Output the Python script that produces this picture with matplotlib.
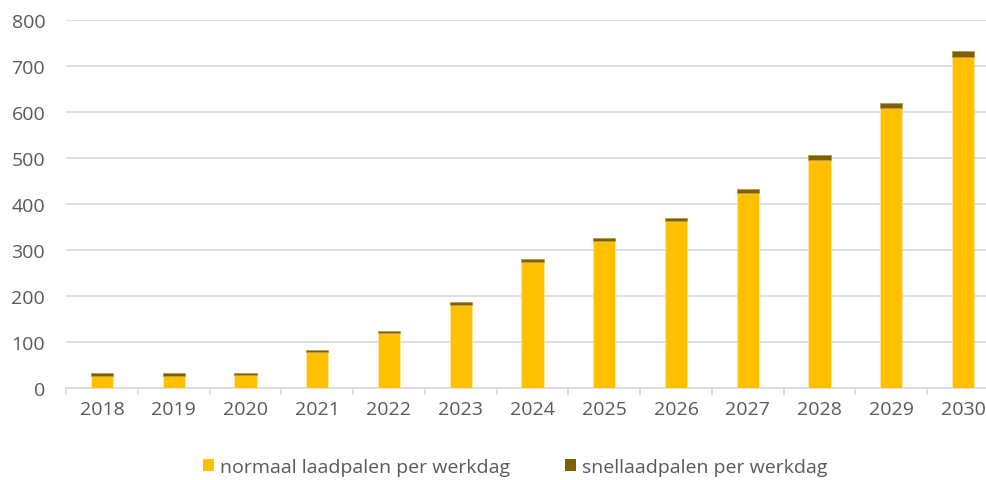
import matplotlib
matplotlib.use("Agg")
import matplotlib.pyplot as plt
import numpy as np

years = ["2018", "2019", "2020", "2021", "2022", "2023", "2024",
         "2025", "2026", "2027", "2028", "2029", "2030"]
normaal = [27, 27, 29, 79, 120, 181, 275, 320, 363, 424, 496, 608, 719]
snel = [6, 6, 4, 4, 4, 5, 5, 6, 7, 9, 11, 12, 14]
yticks = [0, 100, 200, 300, 400, 500, 600, 700, 800]

plt.rcParams['font.family'] = ['Open Sans', 'DejaVu Sans']

W, H = 987, 481
fig = plt.figure(figsize=(W / 100, H / 100), dpi=100)
ax = fig.add_axes([66 / W, 1 - 389 / H, (999 - 66) / W, (389 - 21) / H])

x = np.arange(len(years))
bw = 0.31
ax.bar(x, normaal, width=bw, color="#FFC000", edgecolor="#FFE9A0", linewidth=0.6,
       label="normaal laadpalen per werkdag", zorder=3)
ax.bar(x, snel, width=bw, bottom=normaal, color="#7F6000", edgecolor="#B89A4A", linewidth=0.6,
       label="snellaadpalen per werkdag", zorder=3)

ax.set_xlim(-0.5, len(years) - 0.5)
ax.set_ylim(0, 800)
ax.set_yticks(yticks)
ax.set_yticklabels([str(v) for v in yticks])
ax.grid(axis="y", color="#D9D9D9", linewidth=1.2, zorder=0)
ax.set_axisbelow(True)

ax.set_xticks(x)
ax.set_xticklabels(years)
ax.set_xticks(np.arange(-0.5, len(years), 1), minor=True)
ax.tick_params(axis="x", which="major", length=0, pad=9, labelsize=14, labelcolor="#595959")
ax.tick_params(axis="x", which="minor", length=5, width=1.2, color="#D9D9D9")
ax.tick_params(axis="y", length=0, pad=15, labelsize=14, labelcolor="#595959")

for s in ["top", "right", "left"]:
    ax.spines[s].set_visible(False)
ax.spines["bottom"].set_color("#D9D9D9")
ax.spines["bottom"].set_linewidth(1.2)

handles, labels = ax.get_legend_handles_labels()
leg = fig.legend(handles, labels, loc="center", bbox_to_anchor=(515 / W, 1 - 468 / H),
                 ncol=2, frameon=False, fontsize=14, handlelength=0.6, handleheight=0.6,
                 handletextpad=0.3, columnspacing=2.8, labelcolor="#595959")
for h in leg.legend_handles:
    h.set_linewidth(0)

fig.savefig("out.png", dpi=100)
